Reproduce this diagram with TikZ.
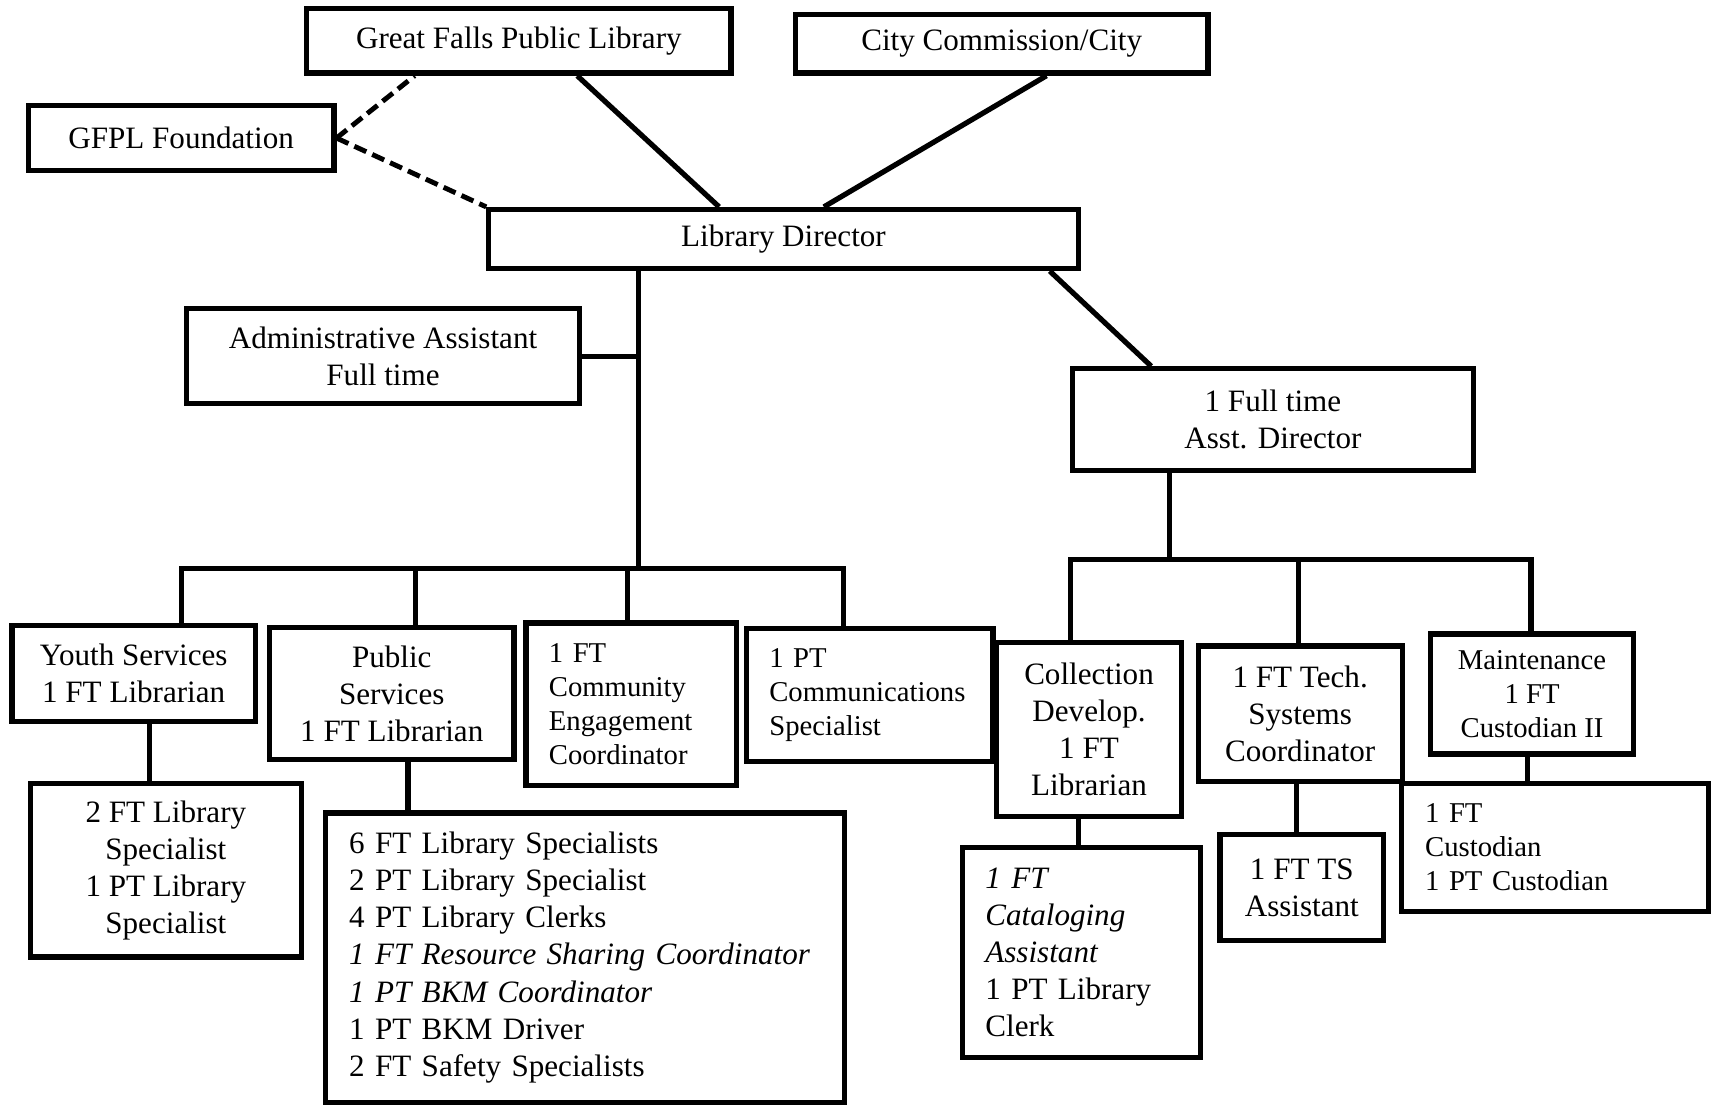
\documentclass[tikz,border=0pt]{standalone}
\usepackage{fontspec}
\setmainfont{Liberation Serif}
\begin{document}
\begin{tikzpicture}[x=1pt,y=-1pt,
  box/.style={draw, line width=4.8pt, inner sep=0pt, align=center, font=\fontsize{28.5}{34}\selectfont},
  sbox/.style={box, font=\fontsize{26.3}{31}\selectfont},
  lbox/.style={draw, line width=4.8pt, inner ysep=0pt, align=left},
  conn/.style={line width=4.8pt},
  dconn/.style={line width=4.5pt, dash pattern=on 12pt off 6pt}]
\useasboundingbox (0,0) rectangle (1568,1013);

% top level
\node[box, minimum width=389, minimum height=59] (gfpl) at (475.5,37.5) {Great Falls Public Library};
\node[box, minimum width=378, minimum height=54] (city) at (918,40) {City Commission/City};
\node[box, minimum width=280, minimum height=59] (found) at (166,126.5) {GFPL Foundation};
\node[box, minimum width=540, minimum height=54] (dir) at (718,219) {Library Director};
\node[box, minimum width=360, minimum height=87] (admin) at (351,326.5) {Administrative Assistant\\Full time};
\node[box, minimum width=367, minimum height=93] (asst) at (1166.5,384.5) {1 Full time\\Asst. Director};

% second level
\node[box, minimum width=223, minimum height=88] (youth) at (122.5,617) {Youth Services\\1 FT Librarian};
\node[box, minimum width=224, minimum height=121] (pub) at (359,635.5) {Public\\Services\\1 FT Librarian};
\node[lbox, font=\fontsize{26.3}{31}\selectfont, inner xsep=21pt, text width=151pt, minimum width=193, minimum height=149] (comm) at (578.5,645.5) {1 FT\\Community\\Engagement\\Coordinator};
\node[lbox, font=\fontsize{26.3}{31}\selectfont, inner xsep=21pt, text width=184pt, minimum width=226, minimum height=122] (cspec) at (797,637) {1 PT\\Communications\\Specialist};
\node[box, minimum width=170, minimum height=159] (coll) at (998,668.5) {Collection\\Develop.\\1 FT\\Librarian};
\node[box, minimum width=187, minimum height=124] (tech) at (1191.5,654) {1 FT Tech.\\Systems\\Coordinator};
\node[sbox, minimum width=186, minimum height=110] (maint) at (1404,636) {Maintenance\\1 FT\\Custodian II};

% third level
\node[box, minimum width=248, minimum height=159] (ylib) at (152,797.5) {2 FT Library\\Specialist\\1 PT Library\\Specialist};
\node[lbox, font=\fontsize{28.5}{34}\selectfont, inner xsep=22pt, text width=432pt, minimum width=476, minimum height=265] (plist) at (536,877.5) {6 FT Library Specialists\\2 PT Library Specialist\\4 PT Library Clerks\\\textit{1 FT Resource Sharing Coordinator}\\\textit{1 PT BKM Coordinator}\\1 PT BKM Driver\\2 FT Safety Specialists};
\node[lbox, font=\fontsize{28.5}{34}\selectfont, inner xsep=21pt, text width=176pt, minimum width=218, minimum height=192] (cat) at (991,873) {\textit{1 FT}\\\textit{Cataloging}\\\textit{Assistant}\\1 PT Library\\Clerk};
\node[box, minimum width=150, minimum height=97] (ts) at (1193,813.5) {1 FT TS\\Assistant};
\node[lbox, font=\fontsize{26.3}{31}\selectfont, inner xsep=22pt, text width=238pt, minimum width=282, minimum height=117] (cust) at (1425,776.5) {1 FT\\Custodian\\1 PT Custodian};

% bar coordinates
\coordinate (bar1) at (585,521);
\coordinate (bar2) at (1072,513);

% top connectors
\draw[conn] ([xshift=53.5pt]gfpl.south) -- ([xshift=-59pt]dir.north);
\draw[conn] ([xshift=41pt]city.south) -- ([xshift=37pt]dir.north);
\draw[dconn] (found.east) -- ([xshift=-95.5pt]gfpl.south);
\draw[dconn] (found.east) -- (dir.north west);
\draw[conn] ([xshift=244pt]dir.south) -- ([xshift=-111.5pt]asst.north);

% left branch
\draw[conn] ([xshift=-133pt]dir.south) -- (bar1);
\draw[conn] (admin.east) -- (admin.east -| bar1);
\draw[conn] ([xshift=43.5pt]youth.north) |- ([xshift=-24pt]cspec.north |- bar1) -- ([xshift=-24pt]cspec.north);
\draw[conn] ([xshift=22pt]pub.north) -- ([xshift=22pt]pub.north |- bar1);
\draw[conn] ([xshift=-3.5pt]comm.north) -- ([xshift=-3.5pt]comm.north |- bar1);
\draw[conn] ([xshift=14.5pt]youth.south) -- ([xshift=14.5pt]youth.south |- ylib.north);
\draw[conn] ([xshift=15pt]pub.south) -- ([xshift=15pt]pub.south |- plist.north);

% right branch
\draw[conn] ([xshift=-94.5pt]asst.south) -- (bar2);
\draw[conn] ([xshift=-17pt]coll.north) |- ([xshift=-1pt]maint.north |- bar2) -- ([xshift=-1pt]maint.north);
\draw[conn] ([xshift=-1.5pt]tech.north) -- ([xshift=-1.5pt]tech.north |- bar2);
\draw[conn] ([xshift=-10pt]coll.south) -- ([xshift=-10pt]coll.south |- cat.north);
\draw[conn] ([xshift=-3.5pt]tech.south) -- ([xshift=-3.5pt]tech.south |- ts.north);
\draw[conn] ([xshift=-4pt]maint.south) -- ([xshift=-4pt]maint.south |- cust.north);
\end{tikzpicture}
\end{document}
